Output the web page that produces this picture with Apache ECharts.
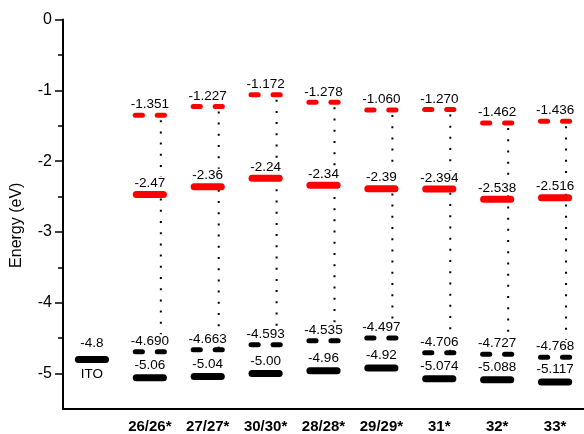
<!DOCTYPE html>
<html><head><meta charset="utf-8">
<script src="https://cdn.jsdelivr.net/npm/echarts@6/dist/echarts.min.js"></script>
<style>html,body{margin:0;padding:0;background:#fff}#c{width:584px;height:434px}</style>
</head><body><div id="c"></div>
<script>
const categories = ['ITO','26/26*','27/27*','30/30*','28/28*','29/29*','31*','32*','33*'];
const yTicks = [0,-1,-2,-3,-4,-5];
const yMinorTicks = [-0.5,-1.5,-2.5,-3.5,-4.5];
const lumoDash = [null,-1.351,-1.227,-1.062,-1.170,-1.278,-1.270,-1.462,-1.436];
const lumoDashLabels = ['','-1.351','-1.227','-1.172','-1.278','-1.060','-1.270','-1.462','-1.436'];
const lumoBar = [null,-2.47,-2.36,-2.24,-2.34,-2.39,-2.394,-2.538,-2.516];
const lumoBarLabels = ['','-2.47','-2.36','-2.24','-2.34','-2.39','-2.394','-2.538','-2.516'];
const homoDash = [null,-4.690,-4.663,-4.593,-4.535,-4.497,-4.706,-4.727,-4.768];
const homoDashLabels = ['','-4.690','-4.663','-4.593','-4.535','-4.497','-4.706','-4.727','-4.768'];
const homoBar = [-4.8,-5.06,-5.04,-5.00,-4.96,-4.92,-5.074,-5.088,-5.117];
const homoBarLabels = ['-4.8','-5.06','-5.04','-5.00','-4.96','-4.92','-5.074','-5.088','-5.117'];

const RED = '#ff0000', BLACK = '#000000';
const FONT = '"Liberation Sans", Arial, sans-serif';

function textEl(x, y, text, va) {
  return {
    type: 'text', x: x, y: y, z2: 5,
    style: {
      text: text, fill: '#000', fontSize: 13.5, fontFamily: FONT,
      align: 'center', verticalAlign: va,
      backgroundColor: '#fff', padding: [0, 1]
    }
  };
}

function levelSeries(values, labels, color, kind, gap) {
  return {
    type: 'custom',
    data: values.map((v, i) => [i, v]),
    renderItem: function (params, api) {
      const v = api.value(1);
      if (v == null || isNaN(v)) return null;
      const i = api.value(0);
      const p = api.coord([i, v]);
      const cw = api.size([1, 0])[0];
      const children = [];
      if (kind === 'bar') {
        const w = cw * 0.59, h = 7;
        children.push({type: 'rect', z2: 10, shape: {x: p[0] - w / 2, y: p[1] - h / 2, width: w, height: h, r: h / 2}, style: {fill: color}});
      } else {
        const w = cw * 0.21, h = 5, off = cw * 0.19;
        [-off, off].forEach(o => children.push({type: 'rect', z2: 10, shape: {x: p[0] + o - w / 2, y: p[1] - h / 2, width: w, height: h, r: h / 2}, style: {fill: color}}));
      }
      const g = (i === 0) ? gap + 4 : gap;
      children.push(textEl(p[0], p[1] - g, labels[i], 'bottom'));
      if (i === 0) children.push(textEl(p[0], p[1] + 7.5, categories[0], 'top'));
      return {type: 'group', children: children};
    }
  };
}

const dotted = {
  type: 'custom',
  data: categories.map((c, i) => [i, lumoDash[i], homoDash[i]]),
  encode: {x: 0, y: [1, 2]},
  renderItem: function (params, api) {
    const a = api.value(1), b = api.value(2);
    if (a == null || b == null || isNaN(a) || isNaN(b)) return null;
    const i = api.value(0);
    const cw = api.size([1, 0])[0];
    const p1 = api.coord([i, a]), p2 = api.coord([i, b]);
    const x = p1[0] + cw * 0.19;
    return {type: 'line', shape: {x1: x, y1: p1[1] + 5, x2: x, y2: p2[1]},
      style: {stroke: '#000', lineWidth: 2, lineDash: [2, 9.2]}};
  }
};

const chart = echarts.init(document.getElementById('c'), null, {renderer: 'canvas'});
chart.setOption({
  backgroundColor: '#fff',
  animation: false,
  grid: {left: 63, right: -5, top: 19.5, bottom: 25, containLabel: false},
  xAxis: {
    type: 'category', data: categories, boundaryGap: true,
    axisLine: {onZero: false, lineStyle: {color: '#000', width: 2}},
    axisTick: {show: false},
    splitLine: {show: false},
    axisLabel: {interval: 0, fontWeight: 'bold', fontSize: 15, color: '#000', fontFamily: FONT, margin: 10,
      formatter: (v, i) => i === 0 ? '' : v}
  },
  yAxis: [{
    type: 'value', min: -5.5, max: 0, position: 'left',
    axisLine: {show: true, lineStyle: {color: '#000', width: 2}},
    axisTick: {show: true, customValues: yTicks, length: 8, lineStyle: {color: '#000', width: 1.5}},
    axisLabel: {customValues: yTicks, color: '#000', fontSize: 16, fontFamily: FONT, margin: 11},
    splitLine: {show: false},
    name: 'Energy (eV)', nameLocation: 'middle', nameGap: 38,
    nameTextStyle: {color: '#000', fontSize: 16, fontFamily: FONT, padding: [0, 22, 0, 0]}
  }, {
    type: 'value', min: -5.5, max: 0, position: 'left',
    axisLine: {show: false},
    axisTick: {show: true, customValues: yMinorTicks, length: 5, lineStyle: {color: '#000', width: 1.5}},
    axisLabel: {show: false},
    splitLine: {show: false}
  }],
  series: [
    dotted,
    levelSeries(lumoDash, lumoDashLabels, RED, 'dash', 3.5),
    levelSeries(lumoBar, lumoBarLabels, RED, 'bar', 4),
    levelSeries(homoDash, homoDashLabels, BLACK, 'dash', 3.5),
    levelSeries(homoBar, homoBarLabels, BLACK, 'bar', 5.5)
  ]
});
</script>
</body></html>
